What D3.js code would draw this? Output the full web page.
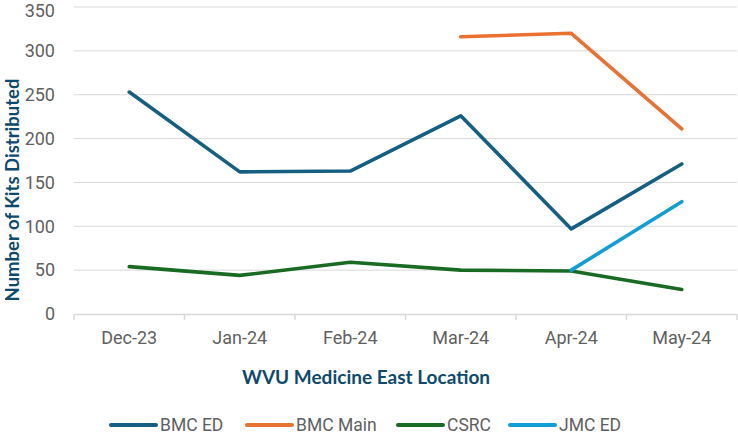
<!DOCTYPE html>
<html>
<head>
<meta charset="utf-8">
<script src="https://cdn.jsdelivr.net/npm/d3@7"></script>
<style>
  body { margin: 0; background: #fff; }
  svg { display: block; }
</style>
</head>
<body>
<script>
const width = 738
const height = 434

const months = ["Dec-23", "Jan-24", "Feb-24", "Mar-24", "Apr-24", "May-24"]
const bmcEd = [253, 162, 163, 226, 97, 171]
const bmcMain = [null, null, null, 316, 320, 211]
const csrc = [54, 44, 59, 50, 49, 28]
const jmcEd = [null, null, null, null, 50, 128]
const yTicks = [0, 50, 100, 150, 200, 250, 300, 350]

const series = [
  { name: "BMC ED", values: bmcEd, color: "#156082" },
  { name: "BMC Main", values: bmcMain, color: "#E97132" },
  { name: "CSRC", values: csrc, color: "#196B24" },
  { name: "JMC ED", values: jmcEd, color: "#0F9ED5" }
]

const margin = { top: 7, right: 1, bottom: 120, left: 74 }
const tickFont = "Roboto, sans-serif"
const titleFont = "Lato, Open Sans, sans-serif"

const svg = d3.select("body").append("svg")
  .attr("width", width)
  .attr("height", height)

const x = d3.scaleBand()
  .domain(months)
  .range([margin.left, width - margin.right])

const y = d3.scaleLinear()
  .domain([0, 350])
  .range([height - margin.bottom, margin.top])

// gridlines
svg.append("g")
  .selectAll("line")
  .data(yTicks.filter(d => d > 0))
  .join("line")
  .attr("x1", margin.left)
  .attr("x2", width - margin.right)
  .attr("y1", d => y(d))
  .attr("y2", d => y(d))
  .attr("stroke", "#d9d9d9")
  .attr("stroke-width", 1)

// y axis labels (top one nudged down so it isn't clipped)
svg.append("g")
  .selectAll("text")
  .data(yTicks)
  .join("text")
  .attr("x", 55)
  .attr("y", d => Math.max(y(d), 10.5))
  .attr("dy", "0.35em")
  .attr("text-anchor", "end")
  .attr("font-family", tickFont)
  .attr("font-size", 18)
  .attr("fill", "#5f5f5f")
  .text(d => d)

// x axis
const xAxis = svg.append("g")
  .attr("transform", `translate(0,${y(0)})`)
  .call(d3.axisBottom(x).tickSize(0).tickPadding(17))

xAxis.select(".domain").attr("stroke", "#d9d9d9").attr("stroke-width", 1.5)
xAxis.selectAll("text")
  .attr("font-family", tickFont)
  .attr("font-size", 18)
  .attr("fill", "#5f5f5f")

const bounds = months.map(m => x(m)).concat([x(months[months.length - 1]) + x.bandwidth()])
xAxis.selectAll(".sep")
  .data(bounds)
  .join("line")
  .attr("class", "sep")
  .attr("x1", d => d)
  .attr("x2", d => d)
  .attr("y1", 0)
  .attr("y2", 6)
  .attr("stroke", "#d9d9d9")
  .attr("stroke-width", 1.5)

// lines
const line = d3.line()
  .defined(d => d !== null)
  .x((d, i) => x(months[i]) + x.bandwidth() / 2)
  .y(d => y(d))

svg.append("g")
  .selectAll("path")
  .data(series)
  .join("path")
  .attr("d", d => line(d.values))
  .attr("fill", "none")
  .attr("stroke", d => d.color)
  .attr("stroke-width", 3.6)
  .attr("stroke-linecap", "round")
  .attr("stroke-linejoin", "round")

// axis titles
svg.append("text")
  .attr("transform", `translate(13,190) rotate(-90)`)
  .attr("text-anchor", "middle")
  .attr("dy", "0.35em")
  .attr("font-family", titleFont)
  .attr("font-weight", "bold")
  .attr("font-size", 18.5)
  .attr("fill", "#0e4a6c")
  .text("Number of Kits Distributed")

svg.append("text")
  .attr("x", 366)
  .attr("y", 377)
  .attr("dy", "0.35em")
  .attr("text-anchor", "middle")
  .attr("font-family", titleFont)
  .attr("font-weight", "bold")
  .attr("font-size", 19)
  .attr("fill", "#0e4a6c")
  .text("WVU Medicine East Location")

// legend
const legendX = [111, 247, 398, 510]
const legend = svg.append("g")
  .selectAll("g")
  .data(series)
  .join("g")
  .attr("transform", (d, i) => `translate(${legendX[i]},425)`)

legend.append("line")
  .attr("x1", 0)
  .attr("x2", 45)
  .attr("stroke", d => d.color)
  .attr("stroke-width", 4)
  .attr("stroke-linecap", "round")

legend.append("text")
  .attr("x", 49)
  .attr("dy", "0.35em")
  .attr("font-family", tickFont)
  .attr("font-size", 17.5)
  .attr("fill", "#5f5f5f")
  .text(d => d.name)
</script>
</body>
</html>
